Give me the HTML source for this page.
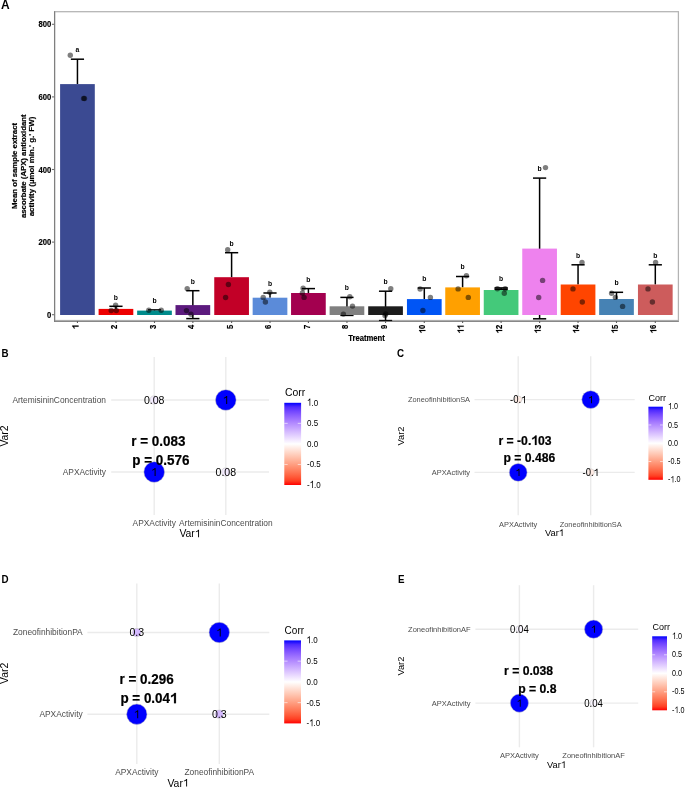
<!DOCTYPE html>
<html><head><meta charset="utf-8"><style>
html,body{margin:0;padding:0;background:#fff;}
body{width:685px;height:787px;overflow:hidden;}
svg{display:block;will-change:transform;font-family:"Liberation Sans",sans-serif;}
</style></head><body>
<svg width="685" height="787" viewBox="0 0 685 787">
<rect width="685" height="787" fill="#fff"/>
<text x="0.90" y="8.60" font-size="12.0" font-weight="bold" text-anchor="start" fill="#000">A</text>
<rect x="54.60" y="11.70" width="623.80" height="308.80" fill="none" stroke="#b3b3b3" stroke-width="1.25"/>
<line x1="51.90" y1="314.70" x2="54.60" y2="314.70" stroke="#6e6e6e" stroke-width="1.1"/>
<text x="0" y="0" font-size="7.7" font-weight="bold" text-anchor="end" fill="#000" transform="translate(51.30 317.70) scale(1 1.14)" stroke="#000" stroke-width="0.15">0</text>
<line x1="51.90" y1="242.10" x2="54.60" y2="242.10" stroke="#6e6e6e" stroke-width="1.1"/>
<text x="0" y="0" font-size="7.7" font-weight="bold" text-anchor="end" fill="#000" transform="translate(51.30 245.10) scale(1 1.14)" stroke="#000" stroke-width="0.15">200</text>
<line x1="51.90" y1="169.50" x2="54.60" y2="169.50" stroke="#6e6e6e" stroke-width="1.1"/>
<text x="0" y="0" font-size="7.7" font-weight="bold" text-anchor="end" fill="#000" transform="translate(51.30 172.50) scale(1 1.14)" stroke="#000" stroke-width="0.15">400</text>
<line x1="51.90" y1="96.90" x2="54.60" y2="96.90" stroke="#6e6e6e" stroke-width="1.1"/>
<text x="0" y="0" font-size="7.7" font-weight="bold" text-anchor="end" fill="#000" transform="translate(51.30 99.90) scale(1 1.14)" stroke="#000" stroke-width="0.15">600</text>
<line x1="51.90" y1="24.30" x2="54.60" y2="24.30" stroke="#6e6e6e" stroke-width="1.1"/>
<text x="0" y="0" font-size="7.7" font-weight="bold" text-anchor="end" fill="#000" transform="translate(51.30 27.30) scale(1 1.14)" stroke="#000" stroke-width="0.15">800</text>
<line x1="77.45" y1="59.20" x2="77.45" y2="84.10" stroke="#000" stroke-width="1.5"/>
<line x1="70.85" y1="59.20" x2="84.05" y2="59.20" stroke="#000" stroke-width="1.5"/>
<rect x="60.10" y="84.10" width="34.70" height="230.90" fill="#3b4a92"/>
<line x1="115.95" y1="306.30" x2="115.95" y2="308.90" stroke="#000" stroke-width="1.5"/>
<line x1="109.35" y1="306.30" x2="122.55" y2="306.30" stroke="#000" stroke-width="1.5"/>
<rect x="98.60" y="308.90" width="34.70" height="6.10" fill="#ee0000"/>
<line x1="154.50" y1="309.90" x2="154.50" y2="310.60" stroke="#000" stroke-width="1.5"/>
<line x1="147.90" y1="309.90" x2="161.10" y2="309.90" stroke="#000" stroke-width="1.5"/>
<rect x="137.15" y="310.60" width="34.70" height="4.40" fill="#008b8b"/>
<line x1="192.85" y1="290.70" x2="192.85" y2="318.60" stroke="#000" stroke-width="1.5"/>
<line x1="186.25" y1="290.70" x2="199.45" y2="290.70" stroke="#000" stroke-width="1.5"/>
<line x1="186.25" y1="318.60" x2="199.45" y2="318.60" stroke="#000" stroke-width="1.5"/>
<rect x="175.50" y="305.10" width="34.70" height="9.90" fill="#5c1a7e"/>
<line x1="231.60" y1="252.70" x2="231.60" y2="277.20" stroke="#000" stroke-width="1.5"/>
<line x1="225.00" y1="252.70" x2="238.20" y2="252.70" stroke="#000" stroke-width="1.5"/>
<rect x="214.25" y="277.20" width="34.70" height="37.80" fill="#c20027"/>
<line x1="270.00" y1="293.00" x2="270.00" y2="297.70" stroke="#000" stroke-width="1.5"/>
<line x1="263.40" y1="293.00" x2="276.60" y2="293.00" stroke="#000" stroke-width="1.5"/>
<rect x="252.65" y="297.70" width="34.70" height="17.30" fill="#5b8bd9"/>
<line x1="308.40" y1="288.60" x2="308.40" y2="293.00" stroke="#000" stroke-width="1.5"/>
<line x1="301.80" y1="288.60" x2="315.00" y2="288.60" stroke="#000" stroke-width="1.5"/>
<rect x="291.05" y="293.00" width="34.70" height="22.00" fill="#a3004f"/>
<line x1="346.95" y1="297.40" x2="346.95" y2="315.40" stroke="#000" stroke-width="1.5"/>
<line x1="340.35" y1="297.40" x2="353.55" y2="297.40" stroke="#000" stroke-width="1.5"/>
<line x1="340.35" y1="315.40" x2="353.55" y2="315.40" stroke="#000" stroke-width="1.5"/>
<rect x="329.60" y="306.30" width="34.70" height="8.70" fill="#808080"/>
<line x1="385.55" y1="291.20" x2="385.55" y2="320.60" stroke="#000" stroke-width="1.5"/>
<line x1="378.95" y1="291.20" x2="392.15" y2="291.20" stroke="#000" stroke-width="1.5"/>
<line x1="378.95" y1="320.60" x2="392.15" y2="320.60" stroke="#000" stroke-width="1.5"/>
<rect x="368.20" y="306.30" width="34.70" height="8.70" fill="#1c1c1c"/>
<line x1="424.30" y1="288.00" x2="424.30" y2="299.10" stroke="#000" stroke-width="1.5"/>
<line x1="417.70" y1="288.00" x2="430.90" y2="288.00" stroke="#000" stroke-width="1.5"/>
<rect x="406.95" y="299.10" width="34.70" height="15.90" fill="#0055f5"/>
<line x1="462.60" y1="276.50" x2="462.60" y2="287.40" stroke="#000" stroke-width="1.5"/>
<line x1="456.00" y1="276.50" x2="469.20" y2="276.50" stroke="#000" stroke-width="1.5"/>
<rect x="445.25" y="287.40" width="34.70" height="27.60" fill="#ffa000"/>
<line x1="501.10" y1="287.90" x2="501.10" y2="290.00" stroke="#000" stroke-width="1.5"/>
<line x1="494.50" y1="287.90" x2="507.70" y2="287.90" stroke="#000" stroke-width="1.5"/>
<line x1="494.50" y1="289.30" x2="507.70" y2="289.30" stroke="#000" stroke-width="1.5"/>
<rect x="483.75" y="290.00" width="34.70" height="25.00" fill="#44c97a"/>
<line x1="539.60" y1="178.10" x2="539.60" y2="318.80" stroke="#000" stroke-width="1.5"/>
<line x1="533.00" y1="178.10" x2="546.20" y2="178.10" stroke="#000" stroke-width="1.5"/>
<line x1="533.00" y1="318.80" x2="546.20" y2="318.80" stroke="#000" stroke-width="1.5"/>
<rect x="522.25" y="248.60" width="34.70" height="66.40" fill="#ee82ee"/>
<line x1="578.05" y1="264.80" x2="578.05" y2="284.50" stroke="#000" stroke-width="1.5"/>
<line x1="571.45" y1="264.80" x2="584.65" y2="264.80" stroke="#000" stroke-width="1.5"/>
<rect x="560.70" y="284.50" width="34.70" height="30.50" fill="#ff4500"/>
<line x1="616.50" y1="292.30" x2="616.50" y2="299.00" stroke="#000" stroke-width="1.5"/>
<line x1="609.90" y1="292.30" x2="623.10" y2="292.30" stroke="#000" stroke-width="1.5"/>
<rect x="599.15" y="299.00" width="34.70" height="16.00" fill="#4682b4"/>
<line x1="655.30" y1="264.80" x2="655.30" y2="284.50" stroke="#000" stroke-width="1.5"/>
<line x1="648.70" y1="264.80" x2="661.90" y2="264.80" stroke="#000" stroke-width="1.5"/>
<rect x="637.95" y="284.50" width="34.70" height="30.50" fill="#cd5c5c"/>
<circle cx="70.30" cy="55.30" r="2.70" fill="#000" fill-opacity="0.5"/>
<circle cx="83.60" cy="98.40" r="2.70" fill="#000" fill-opacity="0.5"/>
<circle cx="84.50" cy="98.50" r="2.70" fill="#000" fill-opacity="0.5"/>
<text x="0" y="0" font-size="6.8" font-weight="bold" text-anchor="middle" fill="#000" transform="translate(77.45 51.90) scale(1 1.16)">a</text>
<circle cx="115.60" cy="305.20" r="2.70" fill="#000" fill-opacity="0.5"/>
<circle cx="111.20" cy="310.50" r="2.70" fill="#000" fill-opacity="0.5"/>
<circle cx="116.30" cy="310.50" r="2.70" fill="#000" fill-opacity="0.5"/>
<text x="0" y="0" font-size="6.8" font-weight="bold" text-anchor="middle" fill="#000" transform="translate(115.95 299.80) scale(1 1.16)">b</text>
<circle cx="148.80" cy="310.30" r="2.70" fill="#000" fill-opacity="0.5"/>
<circle cx="161.20" cy="310.30" r="2.70" fill="#000" fill-opacity="0.5"/>
<text x="0" y="0" font-size="6.8" font-weight="bold" text-anchor="middle" fill="#000" transform="translate(154.50 303.40) scale(1 1.16)">b</text>
<circle cx="187.20" cy="288.60" r="2.70" fill="#000" fill-opacity="0.5"/>
<circle cx="186.50" cy="310.60" r="2.70" fill="#000" fill-opacity="0.5"/>
<circle cx="191.00" cy="314.20" r="2.70" fill="#000" fill-opacity="0.5"/>
<text x="0" y="0" font-size="6.8" font-weight="bold" text-anchor="middle" fill="#000" transform="translate(192.85 283.80) scale(1 1.16)">b</text>
<circle cx="227.70" cy="249.70" r="2.70" fill="#000" fill-opacity="0.5"/>
<circle cx="228.40" cy="284.50" r="2.70" fill="#000" fill-opacity="0.5"/>
<circle cx="225.60" cy="297.50" r="2.70" fill="#000" fill-opacity="0.5"/>
<text x="0" y="0" font-size="6.8" font-weight="bold" text-anchor="middle" fill="#000" transform="translate(231.60 245.60) scale(1 1.16)">b</text>
<circle cx="269.80" cy="292.30" r="2.70" fill="#000" fill-opacity="0.5"/>
<circle cx="263.20" cy="297.40" r="2.70" fill="#000" fill-opacity="0.5"/>
<circle cx="265.40" cy="302.00" r="2.70" fill="#000" fill-opacity="0.5"/>
<text x="0" y="0" font-size="6.8" font-weight="bold" text-anchor="middle" fill="#000" transform="translate(270.00 286.30) scale(1 1.16)">b</text>
<circle cx="303.10" cy="288.30" r="2.70" fill="#000" fill-opacity="0.5"/>
<circle cx="302.40" cy="293.00" r="2.70" fill="#000" fill-opacity="0.5"/>
<circle cx="304.10" cy="297.40" r="2.70" fill="#000" fill-opacity="0.5"/>
<text x="0" y="0" font-size="6.8" font-weight="bold" text-anchor="middle" fill="#000" transform="translate(308.40 281.90) scale(1 1.16)">b</text>
<circle cx="349.80" cy="296.80" r="2.70" fill="#000" fill-opacity="0.5"/>
<circle cx="352.50" cy="306.10" r="2.70" fill="#000" fill-opacity="0.5"/>
<circle cx="343.40" cy="314.10" r="2.70" fill="#000" fill-opacity="0.5"/>
<text x="0" y="0" font-size="6.8" font-weight="bold" text-anchor="middle" fill="#000" transform="translate(346.95 290.20) scale(1 1.16)">b</text>
<circle cx="390.80" cy="288.70" r="2.70" fill="#000" fill-opacity="0.5"/>
<circle cx="385.70" cy="313.90" r="2.70" fill="#000" fill-opacity="0.5"/>
<circle cx="385.00" cy="315.60" r="2.70" fill="#000" fill-opacity="0.5"/>
<text x="0" y="0" font-size="6.8" font-weight="bold" text-anchor="middle" fill="#000" transform="translate(385.55 284.20) scale(1 1.16)">b</text>
<circle cx="420.10" cy="289.00" r="2.70" fill="#000" fill-opacity="0.5"/>
<circle cx="430.40" cy="297.40" r="2.70" fill="#000" fill-opacity="0.5"/>
<circle cx="422.90" cy="310.50" r="2.70" fill="#000" fill-opacity="0.5"/>
<text x="0" y="0" font-size="6.8" font-weight="bold" text-anchor="middle" fill="#000" transform="translate(424.30 281.00) scale(1 1.16)">b</text>
<circle cx="466.40" cy="275.80" r="2.70" fill="#000" fill-opacity="0.5"/>
<circle cx="458.10" cy="288.90" r="2.70" fill="#000" fill-opacity="0.5"/>
<circle cx="468.30" cy="297.40" r="2.70" fill="#000" fill-opacity="0.5"/>
<text x="0" y="0" font-size="6.8" font-weight="bold" text-anchor="middle" fill="#000" transform="translate(462.60 269.30) scale(1 1.16)">b</text>
<circle cx="497.40" cy="288.80" r="2.70" fill="#000" fill-opacity="0.5"/>
<circle cx="504.30" cy="293.20" r="2.70" fill="#000" fill-opacity="0.5"/>
<circle cx="505.20" cy="288.70" r="2.70" fill="#000" fill-opacity="0.5"/>
<text x="0" y="0" font-size="6.8" font-weight="bold" text-anchor="middle" fill="#000" transform="translate(501.10 280.80) scale(1 1.16)">b</text>
<circle cx="545.50" cy="167.60" r="2.70" fill="#000" fill-opacity="0.5"/>
<circle cx="542.60" cy="280.40" r="2.70" fill="#000" fill-opacity="0.5"/>
<circle cx="538.70" cy="297.50" r="2.70" fill="#000" fill-opacity="0.5"/>
<text x="0" y="0" font-size="6.8" font-weight="bold" text-anchor="middle" fill="#000" transform="translate(539.60 170.60) scale(1 1.16)">b</text>
<circle cx="582.00" cy="262.50" r="2.70" fill="#000" fill-opacity="0.5"/>
<circle cx="573.00" cy="288.90" r="2.70" fill="#000" fill-opacity="0.5"/>
<circle cx="582.30" cy="302.00" r="2.70" fill="#000" fill-opacity="0.5"/>
<text x="0" y="0" font-size="6.8" font-weight="bold" text-anchor="middle" fill="#000" transform="translate(578.05 257.60) scale(1 1.16)">b</text>
<circle cx="611.60" cy="293.30" r="2.70" fill="#000" fill-opacity="0.5"/>
<circle cx="615.40" cy="297.40" r="2.70" fill="#000" fill-opacity="0.5"/>
<circle cx="622.60" cy="306.40" r="2.70" fill="#000" fill-opacity="0.5"/>
<text x="0" y="0" font-size="6.8" font-weight="bold" text-anchor="middle" fill="#000" transform="translate(616.50 284.90) scale(1 1.16)">b</text>
<circle cx="655.60" cy="262.50" r="2.70" fill="#000" fill-opacity="0.5"/>
<circle cx="648.00" cy="288.90" r="2.70" fill="#000" fill-opacity="0.5"/>
<circle cx="652.40" cy="302.00" r="2.70" fill="#000" fill-opacity="0.5"/>
<text x="0" y="0" font-size="6.8" font-weight="bold" text-anchor="middle" fill="#000" transform="translate(655.30 257.60) scale(1 1.16)">b</text>
<line x1="54.60" y1="11.20" x2="54.60" y2="321.90" stroke="#7c7c7c" stroke-width="1.1"/>
<line x1="54.05" y1="321.40" x2="678.90" y2="321.40" stroke="#7c7c7c" stroke-width="1.0"/>
<line x1="77.45" y1="321.00" x2="77.45" y2="323.00" stroke="#606060" stroke-width="1.1"/>
<text id="o0" x="0" y="0" font-size="7.7" font-weight="bold" text-anchor="end" fill="#000" transform="translate(78.55 324.70) rotate(-90) scale(1 1.14)" stroke="#000" stroke-width="0.15"> </text>
<path transform="translate(78.55 324.70) rotate(-90) scale(1 1.14)" d="M-1.97 0.00L-0.92 0.00L-0.92 -5.51L-1.74 -5.51Q-2.28 -4.54 -3.71 -4.08L-3.71 -3.16Q-2.59 -3.54 -1.97 -4.08Z" fill="#000" stroke="#000" stroke-width="0.15" stroke-linejoin="round"/>
<line x1="115.95" y1="321.00" x2="115.95" y2="323.00" stroke="#606060" stroke-width="1.1"/>
<text x="0" y="0" font-size="7.7" font-weight="bold" text-anchor="end" fill="#000" transform="translate(117.05 324.70) rotate(-90) scale(1 1.14)" stroke="#000" stroke-width="0.15">2</text>
<line x1="154.50" y1="321.00" x2="154.50" y2="323.00" stroke="#606060" stroke-width="1.1"/>
<text x="0" y="0" font-size="7.7" font-weight="bold" text-anchor="end" fill="#000" transform="translate(155.60 324.70) rotate(-90) scale(1 1.14)" stroke="#000" stroke-width="0.15">3</text>
<line x1="192.85" y1="321.00" x2="192.85" y2="323.00" stroke="#606060" stroke-width="1.1"/>
<text x="0" y="0" font-size="7.7" font-weight="bold" text-anchor="end" fill="#000" transform="translate(193.95 324.70) rotate(-90) scale(1 1.14)" stroke="#000" stroke-width="0.15">4</text>
<line x1="231.60" y1="321.00" x2="231.60" y2="323.00" stroke="#606060" stroke-width="1.1"/>
<text x="0" y="0" font-size="7.7" font-weight="bold" text-anchor="end" fill="#000" transform="translate(232.70 324.70) rotate(-90) scale(1 1.14)" stroke="#000" stroke-width="0.15">5</text>
<line x1="270.00" y1="321.00" x2="270.00" y2="323.00" stroke="#606060" stroke-width="1.1"/>
<text x="0" y="0" font-size="7.7" font-weight="bold" text-anchor="end" fill="#000" transform="translate(271.10 324.70) rotate(-90) scale(1 1.14)" stroke="#000" stroke-width="0.15">6</text>
<line x1="308.40" y1="321.00" x2="308.40" y2="323.00" stroke="#606060" stroke-width="1.1"/>
<text x="0" y="0" font-size="7.7" font-weight="bold" text-anchor="end" fill="#000" transform="translate(309.50 324.70) rotate(-90) scale(1 1.14)" stroke="#000" stroke-width="0.15">7</text>
<line x1="346.95" y1="321.00" x2="346.95" y2="323.00" stroke="#606060" stroke-width="1.1"/>
<text x="0" y="0" font-size="7.7" font-weight="bold" text-anchor="end" fill="#000" transform="translate(348.05 324.70) rotate(-90) scale(1 1.14)" stroke="#000" stroke-width="0.15">8</text>
<line x1="385.55" y1="321.00" x2="385.55" y2="323.00" stroke="#606060" stroke-width="1.1"/>
<text x="0" y="0" font-size="7.7" font-weight="bold" text-anchor="end" fill="#000" transform="translate(386.65 324.70) rotate(-90) scale(1 1.14)" stroke="#000" stroke-width="0.15">9</text>
<line x1="424.30" y1="321.00" x2="424.30" y2="323.00" stroke="#606060" stroke-width="1.1"/>
<text id="o1" x="0" y="0" font-size="7.7" font-weight="bold" text-anchor="end" fill="#000" transform="translate(425.40 324.70) rotate(-90) scale(1 1.14)" stroke="#000" stroke-width="0.15"> 0</text>
<path transform="translate(425.40 324.70) rotate(-90) scale(1 1.14)" d="M-6.26 0.00L-5.20 0.00L-5.20 -5.51L-6.03 -5.51Q-6.57 -4.54 -7.99 -4.08L-7.99 -3.16Q-6.87 -3.54 -6.26 -4.08Z" fill="#000" stroke="#000" stroke-width="0.15" stroke-linejoin="round"/>
<line x1="462.60" y1="321.00" x2="462.60" y2="323.00" stroke="#606060" stroke-width="1.1"/>
<text id="o2" x="0" y="0" font-size="7.7" font-weight="bold" text-anchor="end" fill="#000" transform="translate(463.70 324.70) rotate(-90) scale(1 1.14)" stroke="#000" stroke-width="0.15">  </text>
<path transform="translate(463.70 324.70) rotate(-90) scale(1 1.14)" d="M-6.26 0.00L-5.20 0.00L-5.20 -5.51L-6.03 -5.51Q-6.57 -4.54 -7.99 -4.08L-7.99 -3.16Q-6.87 -3.54 -6.26 -4.08ZM-1.99 0.00L-0.93 0.00L-0.93 -5.51L-1.76 -5.51Q-2.30 -4.54 -3.72 -4.08L-3.72 -3.16Q-2.60 -3.54 -1.99 -4.08Z" fill="#000" stroke="#000" stroke-width="0.15" stroke-linejoin="round"/>
<line x1="501.10" y1="321.00" x2="501.10" y2="323.00" stroke="#606060" stroke-width="1.1"/>
<text id="o3" x="0" y="0" font-size="7.7" font-weight="bold" text-anchor="end" fill="#000" transform="translate(502.20 324.70) rotate(-90) scale(1 1.14)" stroke="#000" stroke-width="0.15"> 2</text>
<path transform="translate(502.20 324.70) rotate(-90) scale(1 1.14)" d="M-6.26 0.00L-5.20 0.00L-5.20 -5.51L-6.03 -5.51Q-6.57 -4.54 -7.99 -4.08L-7.99 -3.16Q-6.87 -3.54 -6.26 -4.08Z" fill="#000" stroke="#000" stroke-width="0.15" stroke-linejoin="round"/>
<line x1="539.60" y1="321.00" x2="539.60" y2="323.00" stroke="#606060" stroke-width="1.1"/>
<text id="o4" x="0" y="0" font-size="7.7" font-weight="bold" text-anchor="end" fill="#000" transform="translate(540.70 324.70) rotate(-90) scale(1 1.14)" stroke="#000" stroke-width="0.15"> 3</text>
<path transform="translate(540.70 324.70) rotate(-90) scale(1 1.14)" d="M-6.26 0.00L-5.20 0.00L-5.20 -5.51L-6.03 -5.51Q-6.57 -4.54 -7.99 -4.08L-7.99 -3.16Q-6.87 -3.54 -6.26 -4.08Z" fill="#000" stroke="#000" stroke-width="0.15" stroke-linejoin="round"/>
<line x1="578.05" y1="321.00" x2="578.05" y2="323.00" stroke="#606060" stroke-width="1.1"/>
<text id="o5" x="0" y="0" font-size="7.7" font-weight="bold" text-anchor="end" fill="#000" transform="translate(579.15 324.70) rotate(-90) scale(1 1.14)" stroke="#000" stroke-width="0.15"> 4</text>
<path transform="translate(579.15 324.70) rotate(-90) scale(1 1.14)" d="M-6.26 0.00L-5.20 0.00L-5.20 -5.51L-6.03 -5.51Q-6.57 -4.54 -7.99 -4.08L-7.99 -3.16Q-6.87 -3.54 -6.26 -4.08Z" fill="#000" stroke="#000" stroke-width="0.15" stroke-linejoin="round"/>
<line x1="616.50" y1="321.00" x2="616.50" y2="323.00" stroke="#606060" stroke-width="1.1"/>
<text id="o6" x="0" y="0" font-size="7.7" font-weight="bold" text-anchor="end" fill="#000" transform="translate(617.60 324.70) rotate(-90) scale(1 1.14)" stroke="#000" stroke-width="0.15"> 5</text>
<path transform="translate(617.60 324.70) rotate(-90) scale(1 1.14)" d="M-6.26 0.00L-5.20 0.00L-5.20 -5.51L-6.03 -5.51Q-6.57 -4.54 -7.99 -4.08L-7.99 -3.16Q-6.87 -3.54 -6.26 -4.08Z" fill="#000" stroke="#000" stroke-width="0.15" stroke-linejoin="round"/>
<line x1="655.30" y1="321.00" x2="655.30" y2="323.00" stroke="#606060" stroke-width="1.1"/>
<text id="o7" x="0" y="0" font-size="7.7" font-weight="bold" text-anchor="end" fill="#000" transform="translate(656.40 324.70) rotate(-90) scale(1 1.14)" stroke="#000" stroke-width="0.15"> 6</text>
<path transform="translate(656.40 324.70) rotate(-90) scale(1 1.14)" d="M-6.26 0.00L-5.20 0.00L-5.20 -5.51L-6.03 -5.51Q-6.57 -4.54 -7.99 -4.08L-7.99 -3.16Q-6.87 -3.54 -6.26 -4.08Z" fill="#000" stroke="#000" stroke-width="0.15" stroke-linejoin="round"/>
<text x="0" y="0" font-size="7.7" font-weight="bold" text-anchor="middle" fill="#000" transform="translate(366.50 340.70) scale(1 1.12)" stroke="#000" stroke-width="0.15">Treatment</text>
<text x="0" y="0" font-size="7.8" font-weight="bold" text-anchor="middle" fill="#000" transform="translate(17.20 165.90) rotate(-90)" textLength="86.0" lengthAdjust="spacingAndGlyphs" stroke="#000" stroke-width="0.18">Mean of sample extract</text>
<text x="0" y="0" font-size="7.8" font-weight="bold" text-anchor="middle" fill="#000" transform="translate(25.95 166.25) rotate(-90)" textLength="103.6" lengthAdjust="spacingAndGlyphs" stroke="#000" stroke-width="0.18">ascorbate (APX) antioxidant</text>
<text x="0" y="0" font-size="7.8" font-weight="bold" text-anchor="middle" fill="#000" transform="translate(34.20 166.50) rotate(-90)" textLength="99.6" lengthAdjust="spacingAndGlyphs" stroke="#000" stroke-width="0.18">activity (µmol min.ʹ g.ʹ FW)</text>
<text x="0" y="0" font-size="9.8" font-weight="bold" text-anchor="start" fill="#000" transform="translate(1.60 356.50) scale(1 1.04)">B</text>
<line x1="154.20" y1="356.90" x2="154.20" y2="514.90" stroke="#ebebeb" stroke-width="1.4"/>
<line x1="225.80" y1="356.90" x2="225.80" y2="514.90" stroke="#ebebeb" stroke-width="1.4"/>
<line x1="111.20" y1="400.00" x2="269.00" y2="400.00" stroke="#ebebeb" stroke-width="1.4"/>
<line x1="111.20" y1="472.00" x2="269.00" y2="472.00" stroke="#ebebeb" stroke-width="1.4"/>
<circle cx="154.20" cy="400.00" r="4.10" fill="#f4ecff" stroke="#bebebe" stroke-width="0.5"/>
<circle cx="225.80" cy="400.00" r="10.35" fill="#0000ff" stroke="#bebebe" stroke-width="0.5"/>
<circle cx="154.20" cy="472.00" r="10.35" fill="#0000ff" stroke="#bebebe" stroke-width="0.5"/>
<circle cx="225.80" cy="472.00" r="4.10" fill="#f4ecff" stroke="#bebebe" stroke-width="0.5"/>
<text x="0" y="0" font-size="10.6" text-anchor="middle" fill="#000" transform="translate(154.20 403.98) scale(1 1.06)">0.08</text>
<text id="o8" x="0" y="0" font-size="10.6" text-anchor="middle" fill="#000" transform="translate(225.80 403.98) scale(1 1.06)"> </text>
<path transform="translate(225.80 403.98) scale(1 1.06)" d="M0.42 0.00L1.38 0.00L1.38 -7.59L0.60 -7.59Q-0.09 -6.36 -1.89 -5.88L-1.89 -5.03Q-0.41 -5.41 0.42 -6.04Z" fill="#000"/>
<text id="o9" x="0" y="0" font-size="10.6" text-anchor="middle" fill="#000" transform="translate(154.20 475.98) scale(1 1.06)"> </text>
<path transform="translate(154.20 475.98) scale(1 1.06)" d="M0.42 0.00L1.38 0.00L1.38 -7.59L0.60 -7.59Q-0.09 -6.36 -1.89 -5.88L-1.89 -5.03Q-0.41 -5.41 0.42 -6.04Z" fill="#000"/>
<text x="0" y="0" font-size="10.6" text-anchor="middle" fill="#000" transform="translate(225.80 475.98) scale(1 1.06)">0.08</text>
<text x="106.00" y="402.97" font-size="8.4" text-anchor="end" fill="#4d4d4d">ArtemisininConcentration</text>
<text x="106.00" y="474.97" font-size="8.4" text-anchor="end" fill="#4d4d4d">APXActivity</text>
<text x="154.20" y="525.77" font-size="8.4" text-anchor="middle" fill="#4d4d4d">APXActivity</text>
<text x="225.80" y="525.77" font-size="8.4" text-anchor="middle" fill="#4d4d4d">ArtemisininConcentration</text>
<text id="o10" x="190.00" y="537.20" font-size="10.4" text-anchor="middle" fill="#000">Var </text>
<path d="M198.10 537.20L199.04 537.20L199.04 529.75L198.28 529.75Q197.60 530.96 195.84 531.43L195.84 532.26Q197.29 531.90 198.10 531.27Z" fill="#000"/>
<text x="0" y="0" font-size="10.4" text-anchor="middle" fill="#000" transform="translate(8.00 436.00) rotate(-90)">Var2</text>
<text x="0" y="0" font-size="13.45" font-weight="bold" text-anchor="start" fill="#000" transform="translate(131.30 445.60) scale(1 1.07)" stroke="#000" stroke-width="0.2">r = 0.083</text>
<text x="0" y="0" font-size="13.45" font-weight="bold" text-anchor="start" fill="#000" transform="translate(132.30 464.60) scale(1 1.07)" stroke="#000" stroke-width="0.2">p = 0.576</text>
<defs><linearGradient id="g1" x1="0" y1="0" x2="0" y2="1"><stop offset="0.000" stop-color="#0000ff"/><stop offset="0.050" stop-color="#502bff"/><stop offset="0.100" stop-color="#7145ff"/><stop offset="0.150" stop-color="#8a5dff"/><stop offset="0.200" stop-color="#a074ff"/><stop offset="0.250" stop-color="#b38bff"/><stop offset="0.300" stop-color="#c4a2ff"/><stop offset="0.350" stop-color="#d4b9ff"/><stop offset="0.400" stop-color="#e3d0ff"/><stop offset="0.450" stop-color="#f2e7ff"/><stop offset="0.500" stop-color="#ffffff"/><stop offset="0.550" stop-color="#ffece5"/><stop offset="0.600" stop-color="#ffd9cb"/><stop offset="0.650" stop-color="#ffc6b2"/><stop offset="0.700" stop-color="#ffb299"/><stop offset="0.750" stop-color="#ff9e81"/><stop offset="0.800" stop-color="#ff8969"/><stop offset="0.850" stop-color="#ff7352"/><stop offset="0.900" stop-color="#ff5b3a"/><stop offset="0.950" stop-color="#ff3e22"/><stop offset="1.000" stop-color="#ff0000"/></linearGradient></defs>
<rect x="284.30" y="402.80" width="16.80" height="82.20" fill="url(#g1)"/>
<text id="o11" x="0" y="0" font-size="8.0" text-anchor="start" fill="#000" transform="translate(307.00 405.73) scale(1 1.24)"> .0</text>
<path transform="translate(307.00 405.73) scale(1 1.24)" d="M2.54 0.00L3.26 0.00L3.26 -5.73L2.68 -5.73Q2.16 -4.80 0.80 -4.44L0.80 -3.80Q1.92 -4.08 2.54 -4.56Z" fill="#000"/>
<line x1="284.30" y1="423.35" x2="287.66" y2="423.35" stroke="#ffffff" stroke-width="0.6"/>
<line x1="297.74" y1="423.35" x2="301.10" y2="423.35" stroke="#ffffff" stroke-width="0.6"/>
<text x="0" y="0" font-size="8.0" text-anchor="start" fill="#000" transform="translate(307.00 426.28) scale(1 1.24)">0.5</text>
<line x1="284.30" y1="443.90" x2="287.66" y2="443.90" stroke="#ffffff" stroke-width="0.6"/>
<line x1="297.74" y1="443.90" x2="301.10" y2="443.90" stroke="#ffffff" stroke-width="0.6"/>
<text x="0" y="0" font-size="8.0" text-anchor="start" fill="#000" transform="translate(307.00 446.83) scale(1 1.24)">0.0</text>
<line x1="284.30" y1="464.45" x2="287.66" y2="464.45" stroke="#ffffff" stroke-width="0.6"/>
<line x1="297.74" y1="464.45" x2="301.10" y2="464.45" stroke="#ffffff" stroke-width="0.6"/>
<text x="0" y="0" font-size="8.0" text-anchor="start" fill="#000" transform="translate(307.00 467.38) scale(1 1.24)">-0.5</text>
<text id="o12" x="0" y="0" font-size="8.0" text-anchor="start" fill="#000" transform="translate(307.00 487.93) scale(1 1.24)">- .0</text>
<path transform="translate(307.00 487.93) scale(1 1.24)" d="M5.19 0.00L5.91 0.00L5.91 -5.73L5.33 -5.73Q4.81 -4.80 3.45 -4.44L3.45 -3.80Q4.57 -4.08 5.19 -4.56Z" fill="#000"/>
<text x="285.00" y="396.00" font-size="10.4" text-anchor="start" fill="#000">Corr</text>
<text x="0" y="0" font-size="9.8" font-weight="bold" text-anchor="start" fill="#000" transform="translate(396.90 356.80) scale(1 1.04)">C</text>
<line x1="518.20" y1="356.30" x2="518.20" y2="515.20" stroke="#ebebeb" stroke-width="1.4"/>
<line x1="590.70" y1="356.30" x2="590.70" y2="515.20" stroke="#ebebeb" stroke-width="1.4"/>
<line x1="474.50" y1="399.60" x2="634.70" y2="399.60" stroke="#ebebeb" stroke-width="1.4"/>
<line x1="474.50" y1="472.40" x2="634.70" y2="472.40" stroke="#ebebeb" stroke-width="1.4"/>
<circle cx="518.20" cy="399.60" r="3.60" fill="#ffece5" stroke="#bebebe" stroke-width="0.5"/>
<circle cx="590.70" cy="399.60" r="8.90" fill="#0000ff" stroke="#bebebe" stroke-width="0.5"/>
<circle cx="518.20" cy="472.40" r="8.90" fill="#0000ff" stroke="#bebebe" stroke-width="0.5"/>
<circle cx="590.70" cy="472.40" r="3.60" fill="#ffece5" stroke="#bebebe" stroke-width="0.5"/>
<text id="o13" x="0" y="0" font-size="9.5" text-anchor="middle" fill="#000" transform="translate(518.20 403.16) scale(1 1.06)">-0. </text>
<path transform="translate(518.20 403.16) scale(1 1.06)" d="M5.91 0.00L6.76 0.00L6.76 -6.80L6.07 -6.80Q5.45 -5.70 3.84 -5.27L3.84 -4.51Q5.17 -4.84 5.91 -5.41Z" fill="#000"/>
<text id="o14" x="0" y="0" font-size="9.5" text-anchor="middle" fill="#000" transform="translate(590.70 403.16) scale(1 1.06)"> </text>
<path transform="translate(590.70 403.16) scale(1 1.06)" d="M0.38 0.00L1.24 0.00L1.24 -6.80L0.54 -6.80Q-0.07 -5.70 -1.69 -5.27L-1.69 -4.51Q-0.36 -4.84 0.38 -5.41Z" fill="#000"/>
<text id="o15" x="0" y="0" font-size="9.5" text-anchor="middle" fill="#000" transform="translate(518.20 475.96) scale(1 1.06)"> </text>
<path transform="translate(518.20 475.96) scale(1 1.06)" d="M0.38 0.00L1.24 0.00L1.24 -6.80L0.54 -6.80Q-0.07 -5.70 -1.69 -5.27L-1.69 -4.51Q-0.36 -4.84 0.38 -5.41Z" fill="#000"/>
<text id="o16" x="0" y="0" font-size="9.5" text-anchor="middle" fill="#000" transform="translate(590.70 475.96) scale(1 1.06)">-0. </text>
<path transform="translate(590.70 475.96) scale(1 1.06)" d="M5.91 0.00L6.76 0.00L6.76 -6.80L6.07 -6.80Q5.45 -5.70 3.84 -5.27L3.84 -4.51Q5.17 -4.84 5.91 -5.41Z" fill="#000"/>
<text x="470.00" y="402.22" font-size="7.4" text-anchor="end" fill="#4d4d4d">ZoneofinhibitionSA</text>
<text x="470.00" y="475.02" font-size="7.4" text-anchor="end" fill="#4d4d4d">APXActivity</text>
<text x="518.20" y="526.52" font-size="7.4" text-anchor="middle" fill="#4d4d4d">APXActivity</text>
<text x="590.70" y="526.52" font-size="7.4" text-anchor="middle" fill="#4d4d4d">ZoneofinhibitionSA</text>
<text id="o17" x="554.45" y="536.00" font-size="9.3" text-anchor="middle" fill="#000">Var </text>
<path d="M561.70 536.00L562.53 536.00L562.53 529.34L561.85 529.34Q561.25 530.42 559.67 530.84L559.67 531.58Q560.97 531.26 561.70 530.70Z" fill="#000"/>
<text x="0" y="0" font-size="9.3" text-anchor="middle" fill="#000" transform="translate(404.30 436.00) rotate(-90)">Var2</text>
<text id="o18" x="0" y="0" font-size="12.2" font-weight="bold" text-anchor="start" fill="#000" transform="translate(498.40 444.90) scale(1 1.07)" stroke="#000" stroke-width="0.2">r = -0. 03</text>
<path transform="translate(498.40 444.90) scale(1 1.07)" d="M36.52 0.00L38.19 0.00L38.19 -8.74L36.89 -8.74Q36.03 -7.20 33.78 -6.47L33.78 -5.00Q35.55 -5.61 36.52 -6.47Z" fill="#000" stroke="#000" stroke-width="0.2" stroke-linejoin="round"/>
<text x="0" y="0" font-size="12.2" font-weight="bold" text-anchor="start" fill="#000" transform="translate(503.40 462.10) scale(1 1.07)" stroke="#000" stroke-width="0.2">p = 0.486</text>
<defs><linearGradient id="g2" x1="0" y1="0" x2="0" y2="1"><stop offset="0.000" stop-color="#0000ff"/><stop offset="0.050" stop-color="#502bff"/><stop offset="0.100" stop-color="#7145ff"/><stop offset="0.150" stop-color="#8a5dff"/><stop offset="0.200" stop-color="#a074ff"/><stop offset="0.250" stop-color="#b38bff"/><stop offset="0.300" stop-color="#c4a2ff"/><stop offset="0.350" stop-color="#d4b9ff"/><stop offset="0.400" stop-color="#e3d0ff"/><stop offset="0.450" stop-color="#f2e7ff"/><stop offset="0.500" stop-color="#ffffff"/><stop offset="0.550" stop-color="#ffece5"/><stop offset="0.600" stop-color="#ffd9cb"/><stop offset="0.650" stop-color="#ffc6b2"/><stop offset="0.700" stop-color="#ffb299"/><stop offset="0.750" stop-color="#ff9e81"/><stop offset="0.800" stop-color="#ff8969"/><stop offset="0.850" stop-color="#ff7352"/><stop offset="0.900" stop-color="#ff5b3a"/><stop offset="0.950" stop-color="#ff3e22"/><stop offset="1.000" stop-color="#ff0000"/></linearGradient></defs>
<rect x="648.40" y="406.70" width="14.50" height="73.10" fill="url(#g2)"/>
<text id="o19" x="0" y="0" font-size="7.2" text-anchor="start" fill="#000" transform="translate(668.00 409.35) scale(1 1.24)"> .0</text>
<path transform="translate(668.00 409.35) scale(1 1.24)" d="M2.29 0.00L2.94 0.00L2.94 -5.16L2.41 -5.16Q1.94 -4.32 0.72 -4.00L0.72 -3.42Q1.73 -3.67 2.29 -4.10Z" fill="#000"/>
<line x1="648.40" y1="424.98" x2="651.30" y2="424.98" stroke="#ffffff" stroke-width="0.6"/>
<line x1="660.00" y1="424.98" x2="662.90" y2="424.98" stroke="#ffffff" stroke-width="0.6"/>
<text x="0" y="0" font-size="7.2" text-anchor="start" fill="#000" transform="translate(668.00 427.62) scale(1 1.24)">0.5</text>
<line x1="648.40" y1="443.25" x2="651.30" y2="443.25" stroke="#ffffff" stroke-width="0.6"/>
<line x1="660.00" y1="443.25" x2="662.90" y2="443.25" stroke="#ffffff" stroke-width="0.6"/>
<text x="0" y="0" font-size="7.2" text-anchor="start" fill="#000" transform="translate(668.00 445.90) scale(1 1.24)">0.0</text>
<line x1="648.40" y1="461.52" x2="651.30" y2="461.52" stroke="#ffffff" stroke-width="0.6"/>
<line x1="660.00" y1="461.52" x2="662.90" y2="461.52" stroke="#ffffff" stroke-width="0.6"/>
<text x="0" y="0" font-size="7.2" text-anchor="start" fill="#000" transform="translate(668.00 464.17) scale(1 1.24)">-0.5</text>
<text id="o20" x="0" y="0" font-size="7.2" text-anchor="start" fill="#000" transform="translate(668.00 482.45) scale(1 1.24)">- .0</text>
<path transform="translate(668.00 482.45) scale(1 1.24)" d="M4.68 0.00L5.32 0.00L5.32 -5.16L4.80 -5.16Q4.33 -4.32 3.11 -4.00L3.11 -3.42Q4.11 -3.67 4.68 -4.10Z" fill="#000"/>
<text x="648.60" y="401.00" font-size="9.0" text-anchor="start" fill="#000">Corr</text>
<text x="0" y="0" font-size="9.8" font-weight="bold" text-anchor="start" fill="#000" transform="translate(1.60 583.20) scale(1 1.04)">D</text>
<line x1="136.80" y1="583.60" x2="136.80" y2="763.90" stroke="#ebebeb" stroke-width="1.4"/>
<line x1="219.30" y1="583.60" x2="219.30" y2="763.90" stroke="#ebebeb" stroke-width="1.4"/>
<line x1="87.40" y1="632.50" x2="269.30" y2="632.50" stroke="#ebebeb" stroke-width="1.4"/>
<line x1="87.40" y1="714.20" x2="269.30" y2="714.20" stroke="#ebebeb" stroke-width="1.4"/>
<circle cx="136.80" cy="632.50" r="4.10" fill="#d4b9ff" stroke="#bebebe" stroke-width="0.5"/>
<circle cx="219.30" cy="632.50" r="10.20" fill="#0000ff" stroke="#bebebe" stroke-width="0.5"/>
<circle cx="136.80" cy="714.20" r="10.20" fill="#0000ff" stroke="#bebebe" stroke-width="0.5"/>
<circle cx="219.30" cy="714.20" r="4.10" fill="#d4b9ff" stroke="#bebebe" stroke-width="0.5"/>
<text x="0" y="0" font-size="10.6" text-anchor="middle" fill="#000" transform="translate(136.80 636.48) scale(1 1.06)">0.3</text>
<text id="o21" x="0" y="0" font-size="10.6" text-anchor="middle" fill="#000" transform="translate(219.30 636.48) scale(1 1.06)"> </text>
<path transform="translate(219.30 636.48) scale(1 1.06)" d="M0.42 0.00L1.38 0.00L1.38 -7.59L0.60 -7.59Q-0.09 -6.36 -1.89 -5.88L-1.89 -5.03Q-0.41 -5.41 0.42 -6.04Z" fill="#000"/>
<text id="o22" x="0" y="0" font-size="10.6" text-anchor="middle" fill="#000" transform="translate(136.80 718.18) scale(1 1.06)"> </text>
<path transform="translate(136.80 718.18) scale(1 1.06)" d="M0.42 0.00L1.38 0.00L1.38 -7.59L0.60 -7.59Q-0.09 -6.36 -1.89 -5.88L-1.89 -5.03Q-0.41 -5.41 0.42 -6.04Z" fill="#000"/>
<text x="0" y="0" font-size="10.6" text-anchor="middle" fill="#000" transform="translate(219.30 718.18) scale(1 1.06)">0.3</text>
<text x="82.70" y="635.47" font-size="8.4" text-anchor="end" fill="#4d4d4d">ZoneofinhibitionPA</text>
<text x="82.70" y="717.17" font-size="8.4" text-anchor="end" fill="#4d4d4d">APXActivity</text>
<text x="136.80" y="775.27" font-size="8.4" text-anchor="middle" fill="#4d4d4d">APXActivity</text>
<text x="219.30" y="775.27" font-size="8.4" text-anchor="middle" fill="#4d4d4d">ZoneofinhibitionPA</text>
<text id="o23" x="178.05" y="786.50" font-size="10.4" text-anchor="middle" fill="#000">Var </text>
<path d="M186.15 786.50L187.09 786.50L187.09 779.05L186.33 779.05Q185.65 780.26 183.89 780.73L183.89 781.56Q185.34 781.20 186.15 780.57Z" fill="#000"/>
<text x="0" y="0" font-size="10.4" text-anchor="middle" fill="#000" transform="translate(8.00 673.35) rotate(-90)">Var2</text>
<text x="0" y="0" font-size="13.45" font-weight="bold" text-anchor="start" fill="#000" transform="translate(119.50 683.90) scale(1 1.07)" stroke="#000" stroke-width="0.2">r = 0.296</text>
<text id="o24" x="0" y="0" font-size="13.45" font-weight="bold" text-anchor="start" fill="#000" transform="translate(120.40 703.20) scale(1 1.07)" stroke="#000" stroke-width="0.2">p = 0.04 </text>
<path transform="translate(120.40 703.20) scale(1 1.07)" d="M53.67 0.00L55.52 0.00L55.52 -9.63L54.08 -9.63Q53.14 -7.94 50.65 -7.13L50.65 -5.51Q52.60 -6.19 53.67 -7.13Z" fill="#000" stroke="#000" stroke-width="0.2" stroke-linejoin="round"/>
<defs><linearGradient id="g3" x1="0" y1="0" x2="0" y2="1"><stop offset="0.000" stop-color="#0000ff"/><stop offset="0.050" stop-color="#502bff"/><stop offset="0.100" stop-color="#7145ff"/><stop offset="0.150" stop-color="#8a5dff"/><stop offset="0.200" stop-color="#a074ff"/><stop offset="0.250" stop-color="#b38bff"/><stop offset="0.300" stop-color="#c4a2ff"/><stop offset="0.350" stop-color="#d4b9ff"/><stop offset="0.400" stop-color="#e3d0ff"/><stop offset="0.450" stop-color="#f2e7ff"/><stop offset="0.500" stop-color="#ffffff"/><stop offset="0.550" stop-color="#ffece5"/><stop offset="0.600" stop-color="#ffd9cb"/><stop offset="0.650" stop-color="#ffc6b2"/><stop offset="0.700" stop-color="#ffb299"/><stop offset="0.750" stop-color="#ff9e81"/><stop offset="0.800" stop-color="#ff8969"/><stop offset="0.850" stop-color="#ff7352"/><stop offset="0.900" stop-color="#ff5b3a"/><stop offset="0.950" stop-color="#ff3e22"/><stop offset="1.000" stop-color="#ff0000"/></linearGradient></defs>
<rect x="284.20" y="640.40" width="16.80" height="83.00" fill="url(#g3)"/>
<text id="o25" x="0" y="0" font-size="8.0" text-anchor="start" fill="#000" transform="translate(306.50 643.33) scale(1 1.24)"> .0</text>
<path transform="translate(306.50 643.33) scale(1 1.24)" d="M2.54 0.00L3.26 0.00L3.26 -5.73L2.68 -5.73Q2.16 -4.80 0.80 -4.44L0.80 -3.80Q1.92 -4.08 2.54 -4.56Z" fill="#000"/>
<line x1="284.20" y1="661.15" x2="287.56" y2="661.15" stroke="#ffffff" stroke-width="0.6"/>
<line x1="297.64" y1="661.15" x2="301.00" y2="661.15" stroke="#ffffff" stroke-width="0.6"/>
<text x="0" y="0" font-size="8.0" text-anchor="start" fill="#000" transform="translate(306.50 664.08) scale(1 1.24)">0.5</text>
<line x1="284.20" y1="681.90" x2="287.56" y2="681.90" stroke="#ffffff" stroke-width="0.6"/>
<line x1="297.64" y1="681.90" x2="301.00" y2="681.90" stroke="#ffffff" stroke-width="0.6"/>
<text x="0" y="0" font-size="8.0" text-anchor="start" fill="#000" transform="translate(306.50 684.83) scale(1 1.24)">0.0</text>
<line x1="284.20" y1="702.65" x2="287.56" y2="702.65" stroke="#ffffff" stroke-width="0.6"/>
<line x1="297.64" y1="702.65" x2="301.00" y2="702.65" stroke="#ffffff" stroke-width="0.6"/>
<text x="0" y="0" font-size="8.0" text-anchor="start" fill="#000" transform="translate(306.50 705.58) scale(1 1.24)">-0.5</text>
<text id="o26" x="0" y="0" font-size="8.0" text-anchor="start" fill="#000" transform="translate(306.50 726.33) scale(1 1.24)">- .0</text>
<path transform="translate(306.50 726.33) scale(1 1.24)" d="M5.19 0.00L5.91 0.00L5.91 -5.73L5.33 -5.73Q4.81 -4.80 3.45 -4.44L3.45 -3.80Q4.57 -4.08 5.19 -4.56Z" fill="#000"/>
<text x="284.60" y="634.30" font-size="10.0" text-anchor="start" fill="#000">Corr</text>
<text x="0" y="0" font-size="9.8" font-weight="bold" text-anchor="start" fill="#000" transform="translate(397.90 582.80) scale(1 1.04)">E</text>
<line x1="519.40" y1="585.20" x2="519.40" y2="747.30" stroke="#ebebeb" stroke-width="1.4"/>
<line x1="593.60" y1="585.20" x2="593.60" y2="747.30" stroke="#ebebeb" stroke-width="1.4"/>
<line x1="475.40" y1="629.20" x2="638.20" y2="629.20" stroke="#ebebeb" stroke-width="1.4"/>
<line x1="475.40" y1="703.10" x2="638.20" y2="703.10" stroke="#ebebeb" stroke-width="1.4"/>
<circle cx="519.40" cy="629.20" r="3.60" fill="#faf6ff" stroke="#bebebe" stroke-width="0.5"/>
<circle cx="593.60" cy="629.20" r="9.10" fill="#0000ff" stroke="#bebebe" stroke-width="0.5"/>
<circle cx="519.40" cy="703.10" r="9.10" fill="#0000ff" stroke="#bebebe" stroke-width="0.5"/>
<circle cx="593.60" cy="703.10" r="3.60" fill="#faf6ff" stroke="#bebebe" stroke-width="0.5"/>
<text x="0" y="0" font-size="9.6" text-anchor="middle" fill="#000" transform="translate(519.40 632.80) scale(1 1.06)">0.04</text>
<text id="o27" x="0" y="0" font-size="9.6" text-anchor="middle" fill="#000" transform="translate(593.60 632.80) scale(1 1.06)"> </text>
<path transform="translate(593.60 632.80) scale(1 1.06)" d="M0.38 0.00L1.25 0.00L1.25 -6.87L0.55 -6.87Q-0.08 -5.76 -1.71 -5.33L-1.71 -4.56Q-0.36 -4.90 0.38 -5.47Z" fill="#000"/>
<text id="o28" x="0" y="0" font-size="9.6" text-anchor="middle" fill="#000" transform="translate(519.40 706.70) scale(1 1.06)"> </text>
<path transform="translate(519.40 706.70) scale(1 1.06)" d="M0.38 0.00L1.25 0.00L1.25 -6.87L0.55 -6.87Q-0.08 -5.76 -1.71 -5.33L-1.71 -4.56Q-0.36 -4.90 0.38 -5.47Z" fill="#000"/>
<text x="0" y="0" font-size="9.6" text-anchor="middle" fill="#000" transform="translate(593.60 706.70) scale(1 1.06)">0.04</text>
<text x="470.60" y="631.86" font-size="7.5" text-anchor="end" fill="#4d4d4d">ZoneofinhibitionAF</text>
<text x="470.60" y="705.75" font-size="7.5" text-anchor="end" fill="#4d4d4d">APXActivity</text>
<text x="519.40" y="757.65" font-size="7.5" text-anchor="middle" fill="#4d4d4d">APXActivity</text>
<text x="593.60" y="757.65" font-size="7.5" text-anchor="middle" fill="#4d4d4d">ZoneofinhibitionAF</text>
<text id="o29" x="556.50" y="767.90" font-size="9.3" text-anchor="middle" fill="#000">Var </text>
<path d="M563.75 767.90L564.58 767.90L564.58 761.24L563.90 761.24Q563.30 762.32 561.72 762.74L561.72 763.48Q563.02 763.16 563.75 762.60Z" fill="#000"/>
<text x="0" y="0" font-size="9.3" text-anchor="middle" fill="#000" transform="translate(404.10 666.15) rotate(-90)">Var2</text>
<text x="0" y="0" font-size="12.2" font-weight="bold" text-anchor="start" fill="#000" transform="translate(504.00 675.30) scale(1 1.07)" stroke="#000" stroke-width="0.2">r = 0.038</text>
<text x="0" y="0" font-size="12.2" font-weight="bold" text-anchor="start" fill="#000" transform="translate(518.20 693.10) scale(1 1.07)" stroke="#000" stroke-width="0.2">p = 0.8</text>
<defs><linearGradient id="g4" x1="0" y1="0" x2="0" y2="1"><stop offset="0.000" stop-color="#0000ff"/><stop offset="0.050" stop-color="#502bff"/><stop offset="0.100" stop-color="#7145ff"/><stop offset="0.150" stop-color="#8a5dff"/><stop offset="0.200" stop-color="#a074ff"/><stop offset="0.250" stop-color="#b38bff"/><stop offset="0.300" stop-color="#c4a2ff"/><stop offset="0.350" stop-color="#d4b9ff"/><stop offset="0.400" stop-color="#e3d0ff"/><stop offset="0.450" stop-color="#f2e7ff"/><stop offset="0.500" stop-color="#ffffff"/><stop offset="0.550" stop-color="#ffece5"/><stop offset="0.600" stop-color="#ffd9cb"/><stop offset="0.650" stop-color="#ffc6b2"/><stop offset="0.700" stop-color="#ffb299"/><stop offset="0.750" stop-color="#ff9e81"/><stop offset="0.800" stop-color="#ff8969"/><stop offset="0.850" stop-color="#ff7352"/><stop offset="0.900" stop-color="#ff5b3a"/><stop offset="0.950" stop-color="#ff3e22"/><stop offset="1.000" stop-color="#ff0000"/></linearGradient></defs>
<rect x="652.20" y="636.30" width="14.80" height="74.00" fill="url(#g4)"/>
<text id="o30" x="0" y="0" font-size="7.2" text-anchor="start" fill="#000" transform="translate(672.10 638.95) scale(1 1.24)"> .0</text>
<path transform="translate(672.10 638.95) scale(1 1.24)" d="M2.29 0.00L2.94 0.00L2.94 -5.16L2.41 -5.16Q1.94 -4.32 0.72 -4.00L0.72 -3.42Q1.73 -3.67 2.29 -4.10Z" fill="#000"/>
<line x1="652.20" y1="654.80" x2="655.16" y2="654.80" stroke="#ffffff" stroke-width="0.6"/>
<line x1="664.04" y1="654.80" x2="667.00" y2="654.80" stroke="#ffffff" stroke-width="0.6"/>
<text x="0" y="0" font-size="7.2" text-anchor="start" fill="#000" transform="translate(672.10 657.45) scale(1 1.24)">0.5</text>
<line x1="652.20" y1="673.30" x2="655.16" y2="673.30" stroke="#ffffff" stroke-width="0.6"/>
<line x1="664.04" y1="673.30" x2="667.00" y2="673.30" stroke="#ffffff" stroke-width="0.6"/>
<text x="0" y="0" font-size="7.2" text-anchor="start" fill="#000" transform="translate(672.10 675.95) scale(1 1.24)">0.0</text>
<line x1="652.20" y1="691.80" x2="655.16" y2="691.80" stroke="#ffffff" stroke-width="0.6"/>
<line x1="664.04" y1="691.80" x2="667.00" y2="691.80" stroke="#ffffff" stroke-width="0.6"/>
<text x="0" y="0" font-size="7.2" text-anchor="start" fill="#000" transform="translate(672.10 694.45) scale(1 1.24)">-0.5</text>
<text id="o31" x="0" y="0" font-size="7.2" text-anchor="start" fill="#000" transform="translate(672.10 712.95) scale(1 1.24)">- .0</text>
<path transform="translate(672.10 712.95) scale(1 1.24)" d="M4.68 0.00L5.32 0.00L5.32 -5.16L4.80 -5.16Q4.33 -4.32 3.11 -4.00L3.11 -3.42Q4.11 -3.67 4.68 -4.10Z" fill="#000"/>
<text x="652.50" y="630.30" font-size="9.0" text-anchor="start" fill="#000">Corr</text>
</svg>
</body></html>
